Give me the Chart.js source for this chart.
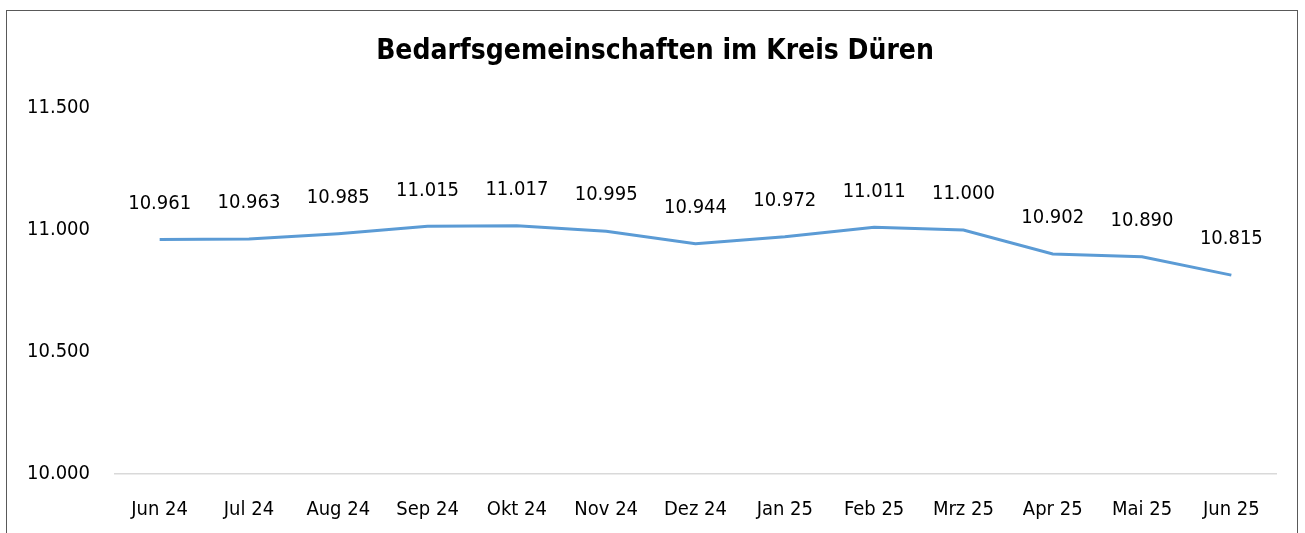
<!DOCTYPE html>
<html>
<head>
<meta charset="utf-8">
<script src="https://cdn.jsdelivr.net/npm/chart.js@4/dist/chart.umd.min.js"></script>
<style>
  html, body { margin: 0; background: #fff; overflow: hidden; }
  #chart { position: absolute; left: 0; top: 0; }
  #frame { position: absolute; left: 6px; top: 10px; width: 1290px; height: 523px; border: 1px solid #595959; border-bottom: none; pointer-events: none; }
</style>
</head>
<body>
<canvas id="chart" width="1305" height="533"></canvas>
<div id="frame"></div>
<script>
const chartTitle = 'Bedarfsgemeinschaften im Kreis Düren';
const months = ['Jun 24', 'Jul 24', 'Aug 24', 'Sep 24', 'Okt 24', 'Nov 24', 'Dez 24',
                'Jan 25', 'Feb 25', 'Mrz 25', 'Apr 25', 'Mai 25', 'Jun 25'];
const households = [10961, 10963, 10985, 11015, 11017, 10995, 10944,
                    10972, 11011, 11000, 10902, 10890, 10815];
const yTicks = [10000, 10500, 11000, 11500];

const FONT = '"Liberation Sans Narrow", "DejaVu Sans Condensed", sans-serif';

// 10961 -> "10.961"
function fmt(v) {
    return String(Math.round(v)).replace(/\B(?=(\d{3})+(?!\d))/g, '.');
}

// value labels above each point, plus the heading centred on the frame
const pointLabels = {
    id: 'pointLabels',
    afterDatasetsDraw(chart) {
        const ctx = chart.ctx;
        const meta = chart.getDatasetMeta(0);
        ctx.save();
        ctx.fillStyle = '#000';
        ctx.textAlign = 'center';
        ctx.textBaseline = 'middle';
        ctx.font = '20px ' + FONT;
        meta.data.forEach((pt, i) => {
            ctx.fillText(fmt(households[i]), pt.x, pt.y - 36);
        });
        ctx.font = 'bold 28px ' + FONT;
        ctx.fillText(chartTitle, 655, 52);
        ctx.restore();
    }
};

const ctx = document.getElementById('chart').getContext('2d');
const chart = new Chart(ctx, {
    type: 'line',
    data: {
        labels: months,
        datasets: [{
            data: households,
            borderColor: '#5B9BD5',
            borderWidth: 3,
            pointRadius: 0,
            tension: 0,
            fill: false
        }]
    },
    options: {
        responsive: false,
        animation: false,
        layout: { padding: { top: 108, right: 29, bottom: 0, left: 0 } },
        plugins: {
            legend: { display: false },
            tooltip: { enabled: false },
            title: { display: false }
        },
        scales: {
            x: {
                offset: true,
                afterFit: s => { s.height = 59; },
                grid: { display: false, drawTicks: false },
                border: { display: true, color: '#d9d9d9', width: 1.5 },
                ticks: { color: '#000', font: { family: FONT, size: 20 }, padding: 24, maxRotation: 0 }
            },
            y: {
                min: 10000,
                max: 11500,
                afterBuildTicks: s => { s.ticks = yTicks.map(v => ({ value: v })); },
                afterFit: s => { s.width = 115; },
                grid: { display: false, drawTicks: false },
                border: { display: false },
                ticks: { color: '#000', font: { family: FONT, size: 20 }, padding: 25, callback: v => fmt(v) }
            }
        }
    },
    plugins: [pointLabels]
});
</script>
</body>
</html>
